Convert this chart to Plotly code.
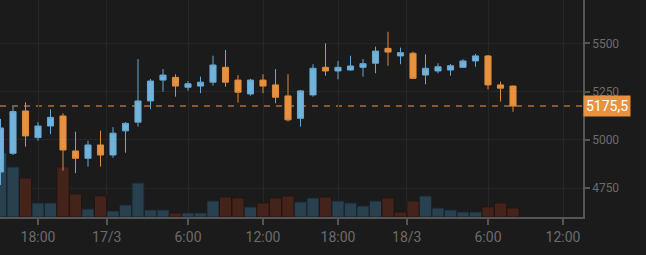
import plotly.graph_objects as go
import pandas as pd

# ---- data ----
start_time = "2025-03-16 15:00"
opens  = [4834, 4931, 5150, 5012, 5072, 5124, 4943, 4905, 4974, 4922,
          5047, 5092, 5202, 5310, 5324, 5273, 5279, 5299, 5376, 5310,
          5238, 5310, 5285, 5228, 5112, 5233, 5376, 5357, 5362, 5376,
          5397, 5474, 5435, 5449, 5336, 5357, 5362, 5376, 5409, 5435,
          5285, 5279]
highs  = [5109, 5171, 5195, 5092, 5159, 5138, 5043, 4996, 5048, 5066,
          5092, 5419, 5316, 5367, 5340, 5305, 5328, 5436, 5466, 5336,
          5316, 5340, 5367, 5340, 5259, 5392, 5500, 5409, 5436, 5419,
          5483, 5560, 5478, 5457, 5443, 5397, 5393, 5418, 5445, 5440,
          5302, 5282]
lows   = [4767, 4922, 4965, 4996, 5030, 4841, 4828, 4862, 4862, 4908,
          4934, 5069, 5159, 5250, 5224, 5255, 5242, 5281, 5276, 5193,
          5229, 5242, 5190, 5095, 5069, 5224, 5333, 5314, 5359, 5328,
          5345, 5384, 5392, 5319, 5288, 5345, 5333, 5376, 5379, 5262,
          5198, 5146]
closes = [5062, 5147, 5021, 5072, 5117, 4948, 4905, 4974, 4922, 5035,
          5086, 5202, 5305, 5336, 5279, 5291, 5299, 5388, 5299, 5247,
          5310, 5279, 5221, 5104, 5254, 5371, 5357, 5376, 5383, 5395,
          5460, 5455, 5452, 5319, 5371, 5379, 5384, 5409, 5435, 5285,
          5268, 5175.5]
volumes = [1280, 1000, 780, 280, 280, 1000, 460, 160, 420, 120,
           240, 680, 140, 140, 80, 80, 80, 320, 400, 380,
           200, 280, 380, 420, 300, 380, 400, 320, 280, 220,
           320, 380, 100, 320, 420, 180, 140, 100, 100, 200,
           280, 180]
last_price = 5175.5
last_label = "5175,5"
tick_times = ["2025-03-16 18:00", "2025-03-16 23:30", "2025-03-17 06:00",
              "2025-03-17 12:00", "2025-03-17 18:00", "2025-03-17 23:30",
              "2025-03-18 06:00", "2025-03-18 12:00"]
tick_labels = ["18:00", "17/3", "6:00", "12:00", "18:00", "18/3", "6:00", "12:00"]
price_ticks = [4750, 5000, 5250, 5500]

times = pd.date_range(start_time, periods=len(closes), freq="h")

UP = "#72b3db"
UP_LINE = "#66a8d2"
DOWN = "#e8913f"
DOWN_LINE = "#e08a3c"
VOL_UP = "#29404f"
VOL_UP_LINE = "#18252e"
VOL_DOWN = "#44241a"
VOL_DOWN_LINE = "#26140f"
BG = "#1b1b1b"
GRID = "#262626"
AXIS = "#555555"
TXT = "#6b6b6b"

vol_up = []
for i, c in enumerate(closes):
    ref = opens[i] if i == 0 else closes[i - 1]
    vol_up.append(c >= ref)

fig = go.Figure()
fig.add_trace(go.Bar(
    x=times, y=volumes, yaxis="y",
    marker=dict(color=[VOL_UP if u else VOL_DOWN for u in vol_up],
                line=dict(color=[VOL_UP_LINE if u else VOL_DOWN_LINE for u in vol_up], width=1)),
    hoverinfo="skip", showlegend=False,
))
fig.add_trace(go.Candlestick(
    x=times, open=opens, high=highs, low=lows, close=closes, yaxis="y2",
    increasing=dict(fillcolor=UP, line=dict(color=UP_LINE, width=1)),
    decreasing=dict(fillcolor=DOWN, line=dict(color=DOWN_LINE, width=1)),
    whiskerwidth=0, showlegend=False,
))

vmax = max(volumes)
fig.update_layout(
    width=646, height=255,
    margin=dict(l=0, r=63, t=0, b=38),
    paper_bgcolor=BG, plot_bgcolor=BG,
    font=dict(family="Roboto", color=TXT),
    bargap=0.04, boxgap=0.3,
    xaxis=dict(
        type="date",
        range=["2025-03-16 14:57:36", "2025-03-18 13:36"],
        tickvals=tick_times, ticktext=tick_labels,
        showgrid=True, gridcolor=GRID, gridwidth=1,
        showline=True, linecolor=AXIS, linewidth=1.5,
        ticks="outside", ticklen=6, tickcolor=AXIS, tickwidth=1.5,
        tickfont=dict(size=14, color=TXT),
        rangeslider=dict(visible=False), zeroline=False, fixedrange=True,
    ),
    yaxis=dict(
        range=[0, vmax * 217 / 64], visible=False, showgrid=False,
        zeroline=False, fixedrange=True,
    ),
    yaxis2=dict(
        overlaying="y", side="right",
        range=[4601, 5724.6],
        tickvals=price_ticks,
        showgrid=True, gridcolor=GRID, gridwidth=1,
        showline=True, linecolor=AXIS, linewidth=1.5,
        ticks="outside", ticklen=5, tickcolor=AXIS, tickwidth=1.5,
        tickfont=dict(size=12, color=TXT),
        zeroline=False, fixedrange=True,
    ),
    shapes=[dict(
        type="line", xref="paper", x0=0, x1=1, yref="y2", y0=last_price, y1=last_price,
        line=dict(color="rgba(232,145,63,0.7)", width=1.5, dash="6px,6px"),
        layer="below",
    )],
    annotations=[dict(
        xref="paper", x=1, xanchor="left", yref="y2", y=last_price, yanchor="middle",
        text=last_label, showarrow=False, bgcolor=DOWN,
        font=dict(family="Roboto", size=14, color="#ffffff"),
        borderpad=2, xshift=0,
    )],
)

fig.write_html("out.html")
